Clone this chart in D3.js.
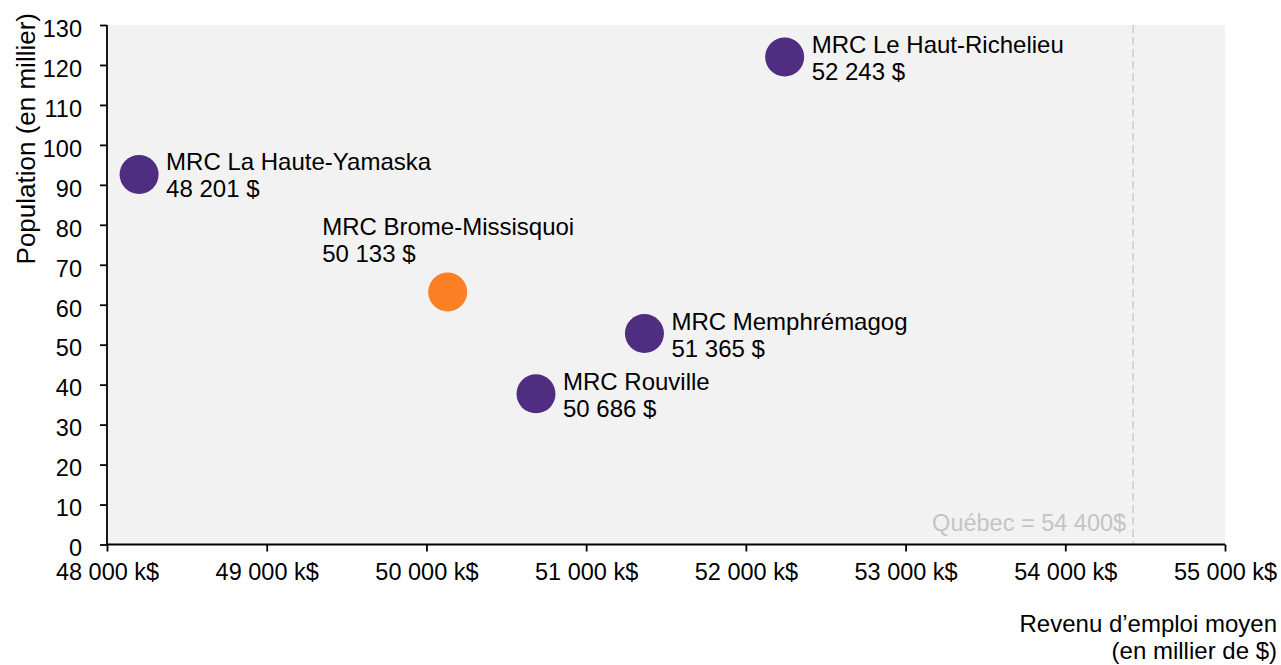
<!DOCTYPE html>
<html>
<head>
<meta charset="utf-8">
<script src="https://cdn.jsdelivr.net/npm/d3@7"></script>
<style>
	body { margin: 0; background: #fff; }
	text { font-family: Arial, "Liberation Sans", sans-serif; }
</style>
</head>
<body>
<script>
//the data
const mrcNames = ["MRC Le Haut-Richelieu", "MRC La Haute-Yamaska", "MRC Brome-Missisquoi", "MRC Memphrémagog", "MRC Rouville"];
const revenus = [52243, 48201, 50133, 51365, 50686]; //revenu d'emploi moyen ($)
const populations = [122, 92.6, 63.2, 52.8, 37.7]; //population (en milliers)
const highlighted = "MRC Brome-Missisquoi";
const xTicks = [48000, 49000, 50000, 51000, 52000, 53000, 54000, 55000];
const yTicks = [0, 10, 20, 30, 40, 50, 60, 70, 80, 90, 100, 110, 120, 130];
const quebecRevenu = 54425; //where the dashed line sits
const quebecLabel = "Québec = 54 400$";

let data = mrcNames.map((n, i) => ({name: n, revenu: revenus[i], pop: populations[i]}));

let svg = d3.select("body").append("svg")
	.attr("width", 1281)
	.attr("height", 665);

let margin = {top: 25, right: 56, bottom: 120.5, left: 107};
let innerWidth = 1281 - margin.left - margin.right;
let innerHeight = 665 - margin.top - margin.bottom;

//french number format, space as thousands separator
let fr = d3.formatLocale({decimal: ",", thousands: " ", grouping: [3], currency: ["", " $"]});
let fmt = fr.format(",");

let x = d3.scaleLinear().domain([48000, 55000]).range([0, innerWidth]);
let y = d3.scaleLinear().domain([0, 130]).range([innerHeight, 0]);

let g = svg.append("g")
	.attr("transform", `translate(${margin.left}, ${margin.top})`);

//grey plot background
g.append("rect")
	.attr("width", innerWidth)
	.attr("height", innerHeight)
	.attr("fill", "#f2f2f2");

//quebec average line
g.append("line")
	.attr("x1", x(quebecRevenu))
	.attr("x2", x(quebecRevenu))
	.attr("y1", 0)
	.attr("y2", innerHeight)
	.attr("stroke", "#c8c8c8")
	.attr("stroke-width", 1.3)
	.attr("stroke-dasharray", "8,4");

g.append("text")
	.attr("x", x(quebecRevenu) - 7)
	.attr("y", innerHeight - 13.5)
	.attr("text-anchor", "end")
	.attr("font-size", 23.5)
	.attr("fill", "#c4c4c4")
	.text(quebecLabel);

//axes
let yAxis = d3.axisLeft(y).tickValues(yTicks).tickSize(7).tickPadding(18);
let xAxis = d3.axisBottom(x).tickValues(xTicks).tickSize(7).tickPadding(12)
	.tickFormat(d => fmt(d) + " k$");

let yG = g.append("g").call(yAxis);
yG.selectAll("text").attr("font-size", 23.5).attr("fill", "#000").attr("dy", "0.48em");

let xG = g.append("g")
	.attr("transform", `translate(0, ${innerHeight})`)
	.call(xAxis);
xG.selectAll("text").attr("font-size", 23.5).attr("fill", "#000").attr("dy", "0.71em");

[yG, xG].forEach(a => {
	a.attr("font-family", null);
	a.select(".domain").attr("stroke", "#000").attr("stroke-width", 1.8)
		.attr("d", a === yG ? `M0,${innerHeight}V0` : `M0,0H${innerWidth}`);
	a.selectAll(".tick line").attr("stroke", "#000").attr("stroke-width", 1.8);
});

//points
let r = 19.5;
g.selectAll("circle.mrc").data(data).enter().append("circle")
	.attr("class", "mrc")
	.attr("cx", d => x(d.revenu))
	.attr("cy", d => y(d.pop))
	.attr("r", r)
	.attr("fill", d => d.name === highlighted ? "#fd7f26" : "#4f2d80");

//labels: to the right of the point, except the highlighted one which sits above left
let labels = g.selectAll("text.lab").data(data).enter().append("text")
	.attr("class", "lab")
	.attr("font-size", 24)
	.attr("fill", "#000")
	.attr("x", d => d.name === highlighted ? x(d.revenu) - 125.5 : x(d.revenu) + r + 7.5)
	.attr("y", d => d.name === highlighted ? y(d.pop) - 57 : y(d.pop) - 4);

labels.append("tspan").text(d => d.name);
labels.append("tspan")
	.attr("x", function(d) { return d3.select(this.parentNode).attr("x"); })
	.attr("dy", 27)
	.text(d => fmt(d.revenu) + " $");

//axis titles
svg.append("text")
	.attr("transform", "translate(35, 13) rotate(-90)")
	.attr("text-anchor", "end")
	.attr("font-size", 26)
	.attr("fill", "#000")
	.text("Population (en millier)");

let xt = svg.append("text")
	.attr("text-anchor", "end")
	.attr("font-size", 24)
	.attr("fill", "#000");
xt.append("tspan").attr("x", 1277).attr("y", 632).text("Revenu d’emploi moyen");
xt.append("tspan").attr("x", 1277).attr("y", 659).text("(en millier de $)");
</script>
</body>
</html>
